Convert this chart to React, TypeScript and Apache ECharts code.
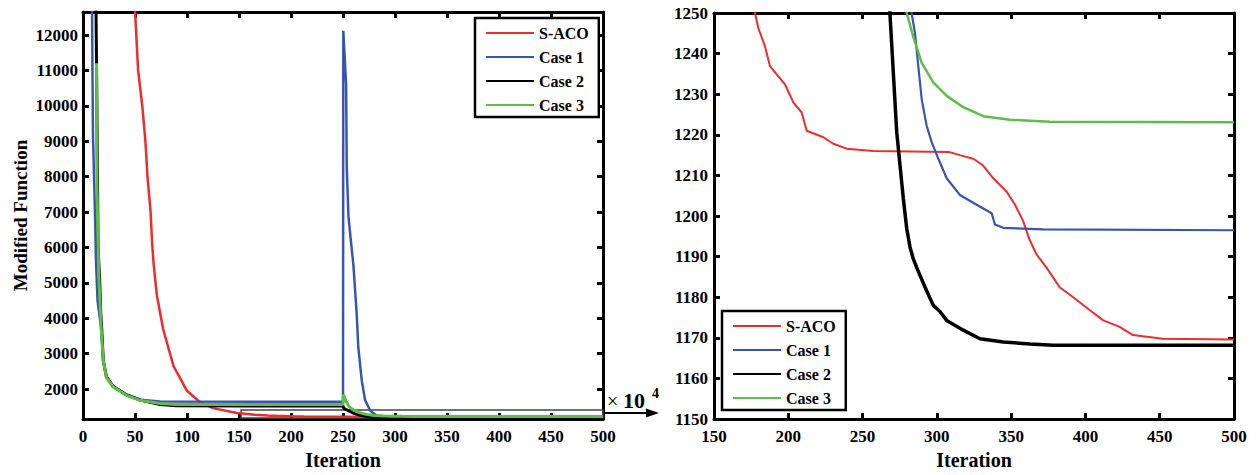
import React, { useEffect, useRef } from "react";
import * as echarts from "echarts";

// ---------- data ----------
const seriesNames = ["S-ACO", "Case 1", "Case 2", "Case 3"];

const sacoData: [number, number][] = [
  [50, 12700], [53, 11000], [57, 10000], [60, 9000], [62, 8000], [65, 7000], [66.5, 6100],
  [68, 5500], [71, 4650], [77, 3700], [87, 2650], [100, 1950], [112, 1640], [125, 1460],
  [148, 1320], [165, 1275], [177.6, 1250], [179.8, 1246.3], [184.3, 1241.8], [187.7, 1236.9],
  [192.2, 1234.9], [197.8, 1232.4], [203.4, 1228], [209, 1225.5], [212.4, 1221], [223.6, 1219.4],
  [230.3, 1217.8], [239.3, 1216.6], [257, 1216], [308, 1215.8], [315.5, 1215], [324.5, 1214.1],
  [331, 1212.5], [338, 1209.3], [347, 1206], [352.6, 1202.8], [358.2, 1198.7], [362, 1194.5],
  [367, 1190.6], [373.8, 1187.3], [382.8, 1182.4], [391.8, 1180], [403, 1176.8], [412, 1174.3],
  [423, 1172.7], [432, 1170.7], [452, 1169.8], [500, 1169.6],
];

const case1Data: [number, number][] = [
  [8.7, 12700], [9.6, 9150], [11.5, 7000], [12.5, 5600], [14, 4500], [17.5, 3700], [19.5, 2800],
  [22.5, 2350], [29, 2080], [42, 1840], [55, 1700], [74, 1645], [250, 1640], [250.3, 12120],
  [253, 10600], [253.6, 8300], [255.2, 6900], [256.7, 6440], [260, 5500], [263.2, 4110],
  [264.7, 3180], [268, 2250], [271.2, 1690], [276, 1400], [279, 1320], [281, 1280], [283, 1250],
  [285.3, 1245], [287.5, 1236.9], [289.8, 1228.8], [293.1, 1222.3], [296.5, 1218.2], [301, 1214.1],
  [306.6, 1209.3], [315.5, 1205.2], [326.8, 1202.8], [336.9, 1200.7], [339.1, 1197.9],
  [344.7, 1197.1], [371.6, 1196.7], [500, 1196.5],
];

const case2Data: [number, number][] = [
  [12.5, 12700], [13, 11200], [14.5, 6000], [16, 5100], [17, 4200], [18, 3700], [19.5, 2800],
  [22.5, 2350], [29, 2070], [42, 1830], [55, 1690], [74, 1560], [90, 1525], [250, 1520],
  [251, 1450], [255, 1390], [260, 1320], [265, 1270], [268.4, 1250], [273, 1220.6],
  [277.4, 1204.4], [279.7, 1197], [281.9, 1192.4], [284, 1189.6], [287, 1186.8], [293.1, 1181.6],
  [297.6, 1178], [302.1, 1176.5], [306.6, 1174.3], [317.8, 1171.9], [329, 1169.8],
  [344.7, 1169], [362.7, 1168.5], [378.3, 1168.2], [500, 1168.2],
];

const case3Data: [number, number][] = [
  [13, 11200], [13.5, 7700], [14.5, 6000], [15.5, 5000], [17.5, 3700], [19.5, 2800],
  [22.5, 2330], [29, 2060], [42, 1820], [55, 1680], [74, 1590], [90, 1565], [250, 1560],
  [250.5, 1840], [253, 1650], [256, 1500], [260, 1410], [265, 1340], [270, 1300], [275, 1270],
  [279.7, 1250], [284.1, 1244.2], [289.8, 1237.7], [297.6, 1232.9], [306.6, 1229.6],
  [317.8, 1226.8], [331.2, 1224.6], [349.2, 1223.7], [376.1, 1223.2], [500, 1223.1],
];

const allData = [sacoData, case1Data, case2Data, case3Data];

const leftYTicks = [2000, 3000, 4000, 5000, 6000, 7000, 8000, 9000, 10000, 11000, 12000];
const leftXRange = [0, 500];
const leftYRange = [1150, 12650];
const rightXRange = [150, 500];
const rightYRange = [1150, 1250];
const zoomBox = [[152, 1180], [500, 1410]];

// ---------- styles ----------
const colors = ["#ef2b2b", "#3a55b0", "#000000", "#5ebd48"];
const leftWidths = [2.5, 2.5, 3, 3];
const rightWidths = [2, 2.2, 3.5, 2.5];
const FONT = "'Liberation Serif', 'DejaVu Serif', serif";
const labelStyle = { fontFamily: FONT, fontWeight: "bold", fontSize: 17, color: "#000" };
const plain = (v: number) => String(v);

const lineAx = { onZero: false, lineStyle: { color: "#000", width: 3 } };
const tickAx = { inside: true, length: 6, lineStyle: { color: "#000", width: 3 } };

function xAxisPair(grid: number, range: number[]) {
  return [
    {
      gridIndex: grid, type: "value", min: range[0], max: range[1], interval: 50,
      position: "bottom", axisLine: lineAx, axisTick: tickAx,
      axisLabel: { ...labelStyle, margin: 9, formatter: plain }, splitLine: { show: false },
      name: "Iteration", nameLocation: "middle", nameGap: 28,
      nameTextStyle: { ...labelStyle, fontSize: 20 },
    },
    {
      gridIndex: grid, type: "value", min: range[0], max: range[1], interval: 50,
      position: "top", axisLine: lineAx, axisTick: tickAx,
      axisLabel: { show: false }, splitLine: { show: false },
    },
  ];
}

export default function App() {
  const ref = useRef<HTMLDivElement>(null);
  useEffect(() => {
    if (!ref.current) return;
    const chart = echarts.init(ref.current, null, { renderer: "svg" });

    const series: any[] = [];
    allData.forEach((d, i) => {
      series.push({
        name: seriesNames[i], type: "line", xAxisIndex: 0, yAxisIndex: 0, data: d,
        symbol: "none", clip: true, silent: true,
        lineStyle: { color: colors[i], width: leftWidths[i] }, itemStyle: { color: colors[i] },
        ...(i === 0
          ? {
              markArea: {
                silent: true,
                itemStyle: { color: "rgba(0,0,0,0)", borderColor: "#444", borderWidth: 1.5 },
                data: [[{ coord: zoomBox[0] }, { coord: zoomBox[1] }]],
              },
            }
          : {}),
      });
    });
    allData.forEach((d, i) => {
      series.push({
        name: seriesNames[i], type: "line", xAxisIndex: 2, yAxisIndex: 2, data: d,
        symbol: "none", clip: true, silent: true,
        lineStyle: { color: colors[i], width: rightWidths[i] }, itemStyle: { color: colors[i] },
      });
    });

    const legendBase = {
      data: seriesNames, orient: "vertical", padding: [7, 10, 4, 10], itemGap: 8,
      itemWidth: 48, itemHeight: 14, borderColor: "#000", borderWidth: 2.5,
      backgroundColor: "#fff", selectedMode: false,
      itemStyle: { opacity: 0 },
      textStyle: { ...labelStyle, fontSize: 16, lineHeight: 16 },
    };

    chart.setOption({
      animation: false,
      backgroundColor: "#fff",
      grid: [
        { left: 83, top: 12, width: 520, height: 410 },
        { left: 714, top: 13, width: 520, height: 410 },
      ],
      xAxis: [...xAxisPair(0, leftXRange), ...xAxisPair(1, rightXRange)],
      yAxis: [
        {
          gridIndex: 0, type: "value", min: leftYRange[0], max: leftYRange[1], position: "left",
          axisLine: lineAx, axisTick: { ...tickAx, customValues: leftYTicks },
          axisLabel: { ...labelStyle, margin: 5, customValues: leftYTicks, formatter: plain },
          splitLine: { show: false },
          name: "Modified Function", nameLocation: "middle", nameGap: 53,
          nameTextStyle: { ...labelStyle, fontSize: 19 },
        },
        {
          gridIndex: 0, type: "value", min: leftYRange[0], max: leftYRange[1], position: "right",
          axisLine: lineAx, axisTick: { ...tickAx, customValues: leftYTicks },
          axisLabel: { show: false, customValues: leftYTicks }, splitLine: { show: false },
        },
        {
          gridIndex: 1, type: "value", min: rightYRange[0], max: rightYRange[1], interval: 10,
          position: "left", axisLine: lineAx, axisTick: tickAx,
          axisLabel: { ...labelStyle, margin: 6, formatter: plain }, splitLine: { show: false },
        },
        {
          gridIndex: 1, type: "value", min: rightYRange[0], max: rightYRange[1], interval: 10,
          position: "right", axisLine: lineAx, axisTick: tickAx,
          axisLabel: { show: false }, splitLine: { show: false },
        },
      ],
      legend: [
        { ...legendBase, left: 475, top: 18 },
        { ...legendBase, left: 722, top: 311 },
      ],
      graphic: [
        {
          type: "text", x: 607, y: 401,
          style: { text: "×", font: `normal 20px ${FONT}`, fill: "#000", verticalAlign: "middle" },
        },
        {
          type: "text", x: 623, y: 400,
          style: { text: "10", font: `bold 22px ${FONT}`, fill: "#000", verticalAlign: "middle" },
        },
        {
          type: "text", x: 652, y: 393,
          style: { text: "4", font: `bold 14px ${FONT}`, fill: "#000", verticalAlign: "middle" },
        },
        {
          type: "line", shape: { x1: 603, y1: 413, x2: 650, y2: 413 },
          style: { stroke: "#000", lineWidth: 2 },
        },
        {
          type: "polygon", shape: { points: [[646, 408.5], [659, 413], [646, 417.5]] },
          style: { fill: "#000" },
        },
      ],
      series,
    });
    return () => chart.dispose();
  }, []);
  return (
    <div
      ref={ref}
      style={{ position: "fixed", left: 0, top: 0, width: 1257, height: 475, background: "#fff" }}
    />
  );
}
